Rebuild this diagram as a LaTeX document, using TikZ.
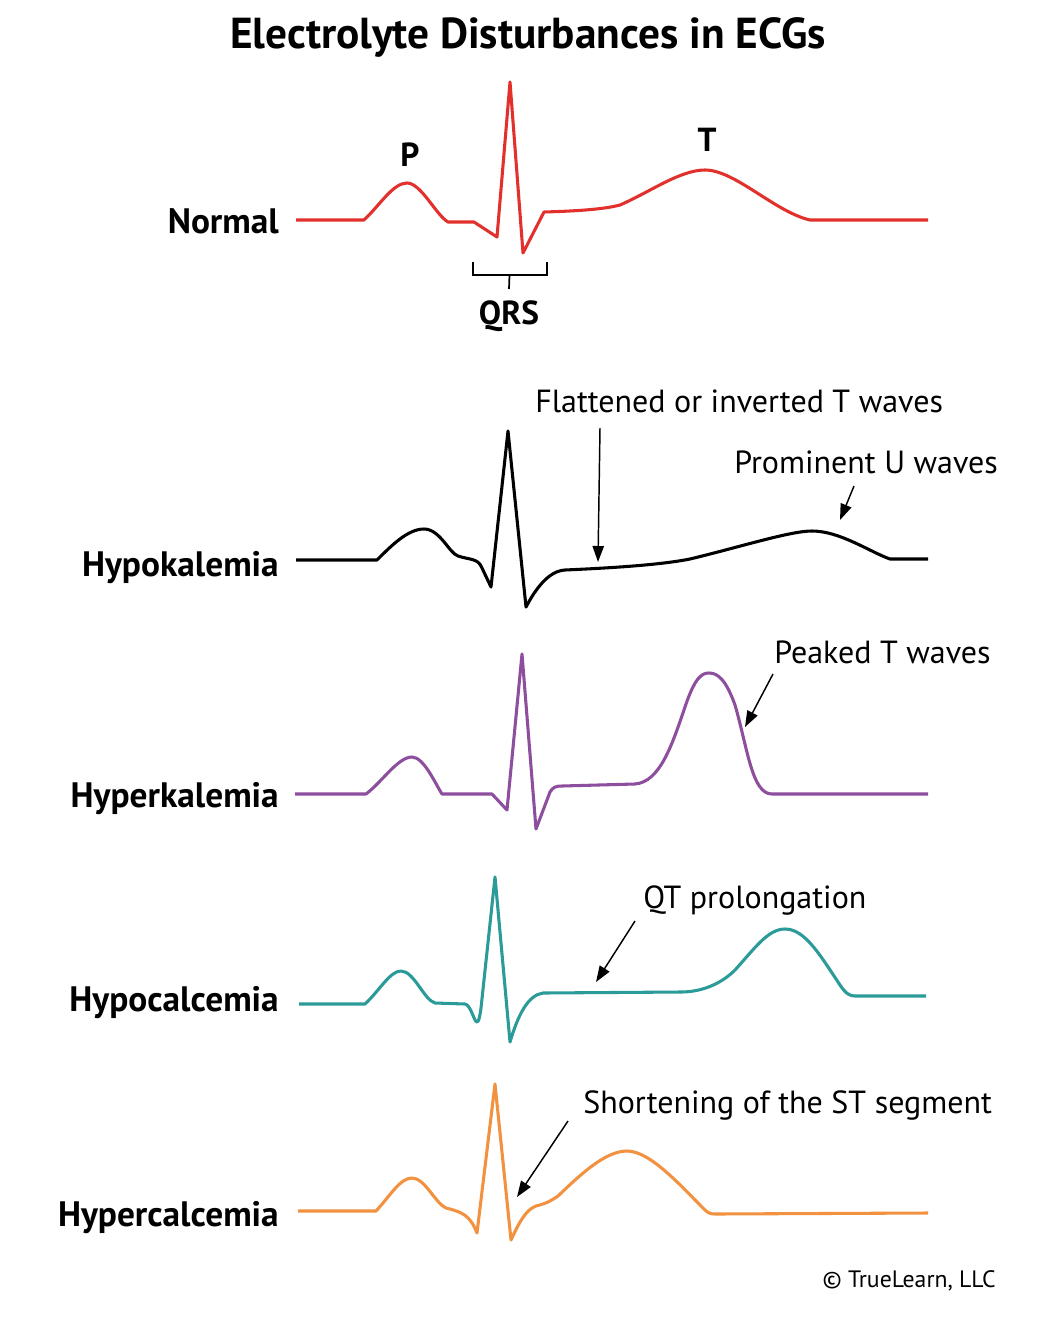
\documentclass[tikz,border=0pt]{standalone}
\usepackage{fontspec}
\setmainfont{PT Sans}
\usetikzlibrary{arrows.meta}
\definecolor{ecgred}{HTML}{E2302D}
\definecolor{ecgpurple}{HTML}{8E4E9E}
\definecolor{ecgteal}{HTML}{2A9B98}
\definecolor{ecgorange}{HTML}{F2913F}
\begin{document}
\begin{tikzpicture}[x=0.75pt,y=-0.75pt,
  wave/.style={line width=2.3pt,line join=round,line cap=butt},
  rowlabel/.style={anchor=base east,font=\bfseries\fontsize{26.5}{30}\selectfont,inner sep=0pt},
  wavelabel/.style={font=\bfseries\fontsize{25}{28}\selectfont,inner sep=0pt},
  note/.style={anchor=base west,font=\fontsize{24}{28}\selectfont,inner sep=0pt},
  pointer/.style={line width=1.1pt,-{Triangle[length=12pt,width=8.5pt]}},
  bracket/.style={line width=1.3pt}]
\useasboundingbox (0,0) rectangle (1056,1320);
\fill[white] (0,0) rectangle (1056,1320);

% Title
\node[font=\bfseries\fontsize{32.5}{36}\selectfont,inner sep=0pt] (title) at (528,37) {Electrolyte Disturbances in ECGs};

% Row labels
\node[rowlabel] (lnormal) at (279,233) {Normal};
\node[rowlabel] (lhypok) at (279,576) {Hypokalemia};
\node[rowlabel] (lhyperk) at (279,807) {Hyperkalemia};
\node[rowlabel] (lhypoca) at (279,1011) {Hypocalcemia};
\node[rowlabel] (lhyperca) at (279,1226) {Hypercalcemia};

% Normal
\draw[wave,ecgred] (296,220) -- (364,220)
  .. controls (380,205) and (393,183) .. (407,183)
  .. controls (421,183) and (436,215) .. (448,222) -- (474,222)
  -- (497,237) -- (510,82) -- (523,253) -- (544,212)
  .. controls (580,211) and (605,209) .. (620,205)
  .. controls (650,192) and (680,170) .. (705,170)
  .. controls (735,170) and (775,212) .. (810,220) -- (928,220);
\node[wavelabel] (lp) at (410,155) {P};
\node[wavelabel] (lt) at (707,140) {T};
\coordinate (qa) at (473,262);
\coordinate (qb) at (547,262);
\coordinate (qc) at (509.5,275);
\draw[bracket] (qa) -- (473,275) -- (547,275) -- (qb);
\node[wavelabel] (lqrs) at (509,316) {QRS};
\draw[bracket] (qc) -- (lqrs.north |- 0,289);

% Hypokalemia
\draw[wave,black] (296,560) -- (377,560)
  .. controls (392,545) and (408,529) .. (424,529)
  .. controls (440,529) and (449,553) .. (458,556)
  .. controls (470,560) and (478,558) .. (482,568) -- (491,587)
  -- (508,431) -- (526,607)
  .. controls (535,590) and (548,571) .. (565,570)
  .. controls (610,568) and (660,565) .. (690,559)
  .. controls (740,547) and (790,531) .. (812,531)
  .. controls (840,531) and (870,552) .. (890,559) -- (928,559);
\node[note] (nflat) at (535,412) {Flattened or inverted T waves};
\node[note] (nu) at (734,473) {Prominent U waves};
\coordinate (aflat0) at (600,428);
\coordinate (aflat1) at (598,562);
\coordinate (au0) at (854,486);
\coordinate (au1) at (840,520);
\draw[pointer] (aflat0) -- (aflat1);
\draw[pointer] (au0) -- (au1);

% Hyperkalemia
\draw[wave,ecgpurple] (295,794) -- (366,794)
  .. controls (382,782) and (398,757) .. (412,757)
  .. controls (424,757) and (436,785) .. (442,794) -- (492,794)
  -- (507,810) -- (522,654) -- (536,829) -- (550,792)
  .. controls (553,787) and (556,786) .. (562,786) -- (635,784)
  .. controls (660,782) and (672,745) .. (685,707)
  .. controls (695,677) and (702,673) .. (709,673)
  .. controls (718,673) and (726,680) .. (735,705)
  .. controls (748,750) and (752,794) .. (772,794) -- (928,794);
\node[note] (npeak) at (774,663) {Peaked T waves};
\coordinate (apk0) at (773,674);
\coordinate (apk1) at (745,727);
\draw[pointer] (apk0) -- (apk1);

% Hypocalcemia
\draw[wave,ecgteal] (299,1004) -- (365,1004)
  .. controls (380,990) and (390,971) .. (401,971)
  .. controls (414,971) and (424,1000) .. (435,1003) -- (465,1004)
  .. controls (471,1005) and (474,1022) .. (477,1022)
  .. controls (479,1022) and (480,1015) .. (481,1008)
  -- (495,877) -- (510,1042)
  .. controls (518,1015) and (528,995) .. (543,993) -- (681,992)
  .. controls (700,992) and (720,985) .. (735,970)
  .. controls (755,948) and (768,929) .. (785,929)
  .. controls (805,929) and (820,955) .. (840,985)
  .. controls (846,994) and (850,996) .. (855,996) -- (926,996);
\node[note] (nqt) at (643,908) {QT prolongation};
\coordinate (aqt0) at (635,921);
\coordinate (aqt1) at (596,982);
\draw[pointer] (aqt0) -- (aqt1);

% Hypercalcemia
\draw[wave,ecgorange] (298,1211) -- (376,1211)
  .. controls (390,1196) and (400,1178) .. (412,1178)
  .. controls (425,1178) and (435,1203) .. (446,1208)
  .. controls (462,1212) and (470,1215) .. (477,1233)
  -- (495,1084) -- (511,1240)
  .. controls (518,1225) and (525,1210) .. (536,1206)
  .. controls (548,1203) and (552,1200) .. (558,1196)
  .. controls (580,1175) and (605,1151) .. (627,1151)
  .. controls (650,1151) and (680,1185) .. (705,1210)
  .. controls (708,1213) and (711,1214) .. (715,1214) -- (928,1213);
\node[note] (nst) at (583,1113) {Shortening of the ST segment};
\coordinate (ast0) at (568,1121);
\coordinate (ast1) at (517,1197);
\draw[pointer] (ast0) -- (ast1);

% Copyright
\node[anchor=base east,font=\fontsize{17.8}{20}\selectfont,inner sep=0pt] (copy) at (996,1287) {© TrueLearn, LLC};
\end{tikzpicture}
\end{document}
